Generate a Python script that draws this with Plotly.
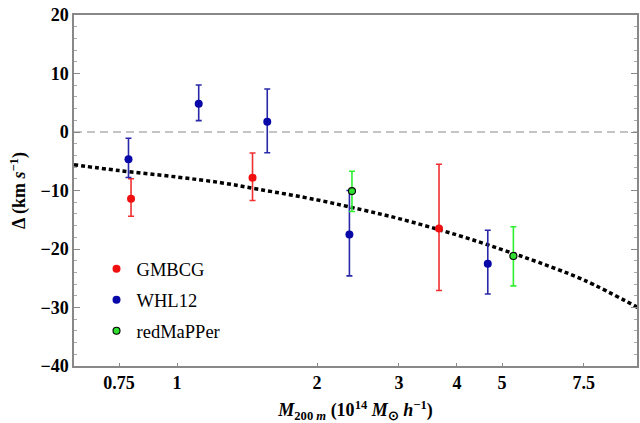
import plotly.graph_objects as go

# ---- data ----
gmbcg_m = [0.796, 1.453, 3.66]
gmbcg_d = [-11.4, -7.8, -16.5]
gmbcg_hi = [3.4, 4.2, 11.0]
gmbcg_lo = [3.0, 3.9, 10.6]

whl_m = [0.786, 1.113, 1.563, 2.348, 4.66]
whl_d = [-4.67, 4.84, 1.76, -17.5, -22.5]
whl_hi = [3.6, 3.2, 5.6, 7.5, 5.7]
whl_lo = [3.1, 2.9, 5.3, 7.1, 5.2]

red_m = [2.378, 5.29]
red_d = [-10.1, -21.2]
red_hi = [3.4, 5.0]
red_lo = [3.5, 5.1]

curve_m = [0.6, 0.75, 1.0, 1.25, 1.5, 2.0, 2.5, 3.0, 4.0, 5.0, 6.0, 7.5, 9.8]
curve_d = [-5.6, -6.6, -7.7, -8.7, -9.8, -11.6, -13.3, -14.8, -17.6, -20.1, -22.3, -25.3, -30.0]

xtick_vals = [0.75, 1, 2, 3, 4, 5, 7.5]
xtick_text = ["0.75", "1", "2", "3", "4", "5", "7.5"]
ytick_vals = [-40, -30, -20, -10, 0, 10, 20]

FONT = "Liberation Serif"

fig = go.Figure()

fig.add_trace(go.Scatter(
    x=curve_m, y=curve_d, mode="lines", showlegend=False,
    line=dict(color="black", width=3.5, dash="4px,3px", shape="spline"),
    hoverinfo="skip"))

def pts(name, xs, ys, hi, lo, mcol, ecol, size, edge=None, group=""):
    fig.add_trace(go.Scatter(
        x=xs, y=ys, mode="markers", name=name, legendgroup=group,
        marker=dict(color=mcol, size=size,
                    line=dict(color=edge if edge else mcol, width=1.1 if edge else 0)),
        error_y=dict(type="data", symmetric=False, array=hi, arrayminus=lo,
                     color=ecol, thickness=1.6, width=3)))

pts("GMBCG", gmbcg_m, gmbcg_d, gmbcg_hi, gmbcg_lo, "#f01010", "#ee3030", 8, group="a")
pts("WHL12", whl_m, whl_d, whl_hi, whl_lo, "#0808a8", "#2828a8", 8, group="b")
pts("redMaPPer", red_m, red_d, red_hi, red_lo, "#30e030", "#30ee30", 7, edge="black", group="c")

fig.add_hline(y=0, line=dict(color="#888888", width=1, dash="8px,5px"))

fig.update_layout(
    width=640, height=423,
    margin=dict(l=74, r=1, t=15, b=57),
    plot_bgcolor="white", paper_bgcolor="white",
    font=dict(family=FONT, color="black"),
    showlegend=True,
    legend=dict(x=0.04, y=0.33, xanchor="left", yanchor="top",
                bgcolor="rgba(0,0,0,0)", font=dict(family=FONT, size=18.5),
                tracegroupgap=4, itemsizing="trace"),
    xaxis=dict(
        type="log", range=[-0.2218, 0.9894],
        tickvals=xtick_vals, ticktext=xtick_text,
        tickfont=dict(family=FONT, size=18, weight="bold"),
        ticks="inside", ticklen=3, tickcolor="#888888",
        showline=True, linecolor="#888888", linewidth=1.5, mirror=True,
        showgrid=False, zeroline=False,
        title=dict(text="<i>M</i><sub>200 <i>m</i></sub> (10<sup>14</sup> <i>M</i><sub>⊙</sub> <i>h</i><sup>−1</sup>)",
                   font=dict(family=FONT, size=18, weight="bold"), standoff=14),
    ),
    yaxis=dict(
        range=[-40, 20], tickvals=ytick_vals,
        tickfont=dict(family=FONT, size=18, weight="bold"),
        ticks="inside", ticklen=6, tickcolor="#888888",
        minor=dict(dtick=2, ticks="inside", ticklen=3, tickcolor="#aaaaaa"),
        showline=True, linecolor="#888888", linewidth=1.5, mirror="ticks",
        showgrid=False, zeroline=False,
        title=dict(text="Δ (km <i>s</i><sup>−1</sup>)",
                   font=dict(family=FONT, size=18, weight="bold"), standoff=10),
    ),
)

fig.write_html("out.html", config={"displayModeBar": False},
               post_script="document.body.style.margin='0';document.body.style.overflow='hidden';")
